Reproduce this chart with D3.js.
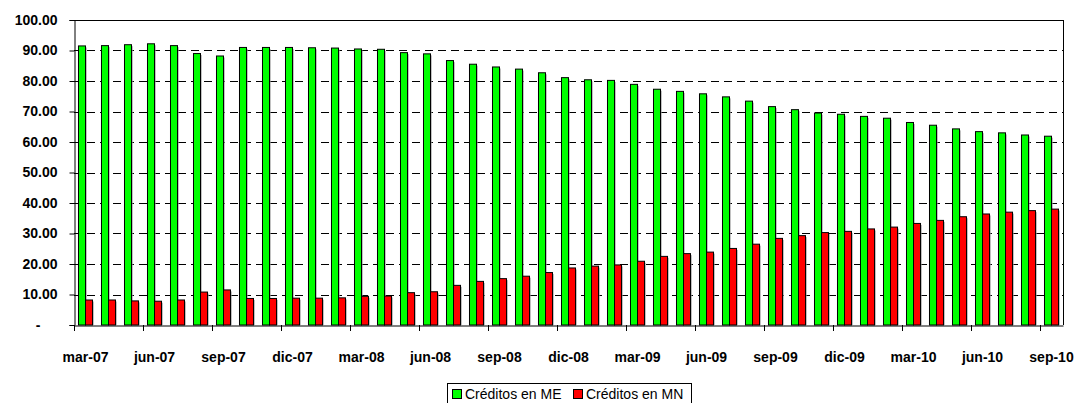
<!DOCTYPE html>
<html><head><meta charset="utf-8">
<script src="https://cdn.jsdelivr.net/npm/d3@7"></script>
<style>
html,body{margin:0;padding:0;background:#fff;}
svg{display:block;font-family:"Liberation Sans",Arial,sans-serif;}
</style></head>
<body>
<svg id="chart" width="1077" height="403"></svg>
<script>
const categories = ["mar-07","abr-07","may-07","jun-07","jul-07","ago-07","sep-07","oct-07","nov-07","dic-07",
 "ene-08","feb-08","mar-08","abr-08","may-08","jun-08","jul-08","ago-08","sep-08","oct-08","nov-08","dic-08",
 "ene-09","feb-09","mar-09","abr-09","may-09","jun-09","jul-09","ago-09","sep-09","oct-09","nov-09","dic-09",
 "ene-10","feb-10","mar-10","abr-10","may-10","jun-10","jul-10","ago-10","sep-10"];
const creditosME = [91.5,91.6,91.9,92.2,91.6,89.0,88.2,91.0,91.0,91.0,90.9,90.8,
 90.5,90.4,89.3,88.9,86.7,85.5,84.6,83.9,82.7,81.1,80.4,80.2,78.9,77.3,76.6,75.8,
 74.8,73.4,71.6,70.6,69.5,69.1,68.4,67.8,66.4,65.5,64.3,63.4,63.0,62.3,61.9];
const creditosMN = [8.2,8.2,7.9,7.8,8.2,10.8,11.5,8.7,8.7,8.8,8.8,8.9,
 9.4,9.5,10.6,10.9,13.0,14.3,15.2,16.0,17.2,18.7,19.3,19.7,20.9,22.5,23.4,23.9,
 25.1,26.5,28.4,29.3,30.3,30.7,31.5,32.1,33.3,34.3,35.5,36.4,37.0,37.5,38.0];
const seriesNames = ["Créditos en ME","Créditos en MN"];
const seriesColors = ["#00ff00","#ff0000"];
const yTicks = [0,10,20,30,40,50,60,70,80,90,100];

const svg = d3.select("#chart");
const L = 74, R = 1063, T = 20, B = 325;

const x = d3.scaleBand().domain(categories).range([L, R]).paddingInner(0).paddingOuter(0);
const x1 = d3.scaleBand().domain(seriesNames).range([0, x.bandwidth()]).paddingInner(0).paddingOuter(0.64);
const y = d3.scaleLinear().domain([0, 100]).range([B, T]);

// gridlines
svg.append("g").selectAll("line").data(yTicks.filter(d => d > 0 && d < 100)).join("line")
  .attr("x1", L).attr("x2", R)
  .attr("y1", d => Math.round(y(d)) + 0.5).attr("y2", d => Math.round(y(d)) + 0.5)
  .attr("stroke", "#000").attr("stroke-width", 1).attr("stroke-dasharray", "8,5");

// plot border top/right
svg.append("line").attr("x1", L).attr("x2", R + 0.5).attr("y1", T + 0.5).attr("y2", T + 0.5).attr("stroke", "#000");
svg.append("line").attr("x1", R + 0.5).attr("x2", R + 0.5).attr("y1", T).attr("y2", B).attr("stroke", "#000");

// bars
const data = categories.map((c, i) => ({c, vals: [creditosME[i], creditosMN[i]]}));
const groups = svg.append("g").selectAll("g").data(data).join("g")
  .attr("transform", d => `translate(${x(d.c)},0)`);
groups.selectAll("rect.shadow").data(d => d.vals.map((v, k) => ({v, k}))).join("rect")
  .attr("class", "shadow")
  .attr("x", d => x1(seriesNames[d.k]) + 1.5)
  .attr("y", d => y(d.v) + 1.5)
  .attr("width", x1.bandwidth())
  .attr("height", d => B - y(d.v) - 1.5)
  .attr("fill", "#999").attr("opacity", 0.6);
groups.selectAll("rect.bar").data(d => d.vals.map((v, k) => ({v, k}))).join("rect")
  .attr("class", "bar")
  .attr("x", d => x1(seriesNames[d.k]))
  .attr("y", d => y(d.v))
  .attr("width", x1.bandwidth())
  .attr("height", d => B - y(d.v))
  .attr("fill", d => seriesColors[d.k])
  .attr("stroke", "#000").attr("stroke-width", 1);

// y axis
const yAxis = d3.axisLeft(y).tickValues(yTicks).tickSize(5).tickPadding(12)
  .tickFormat(d => d === 0 ? "-" : d3.format(".2f")(d));
const ya = svg.append("g").attr("transform", `translate(${L + 0.5},0)`).call(yAxis);
ya.select(".domain").attr("stroke", "#000");
ya.selectAll("text").attr("font-size", 14).attr("font-weight", "bold").attr("fill", "#000")
  .attr("font-family", '"Liberation Sans",Arial,sans-serif');
ya.selectAll(".tick").filter(d => d === 0).select("text").attr("dx", -17);

// x axis
const xAxis = d3.axisBottom(x).tickSize(0).tickPadding(27)
  .tickFormat((d, i) => i % 3 === 0 ? d : "");
const xa = svg.append("g").attr("transform", `translate(0,${B + 0.5})`).call(xAxis);
xa.select(".domain").attr("stroke", "#000");
xa.selectAll("text").attr("font-size", 14).attr("font-weight", "bold").attr("fill", "#000")
  .attr("font-family", '"Liberation Sans",Arial,sans-serif');
// category boundary ticks every 3
svg.append("g").selectAll("line").data(categories.filter((c, i) => i % 3 === 0)).join("line")
  .attr("x1", d => Math.round(x(d)) + 0.5).attr("x2", d => Math.round(x(d)) + 0.5)
  .attr("y1", B).attr("y2", B + 6).attr("stroke", "#000");

// legend
const lg = svg.append("g");
lg.append("rect").attr("x", 447.5).attr("y", 383.5).attr("width", 244).attr("height", 26)
  .attr("fill", "#fff").attr("stroke", "#000");
const items = [{n: seriesNames[0], c: seriesColors[0], x: 452}, {n: seriesNames[1], c: seriesColors[1], x: 573}];
items.forEach(it => {
  lg.append("rect").attr("x", it.x + 0.5).attr("y", 389.5).attr("width", 9).attr("height", 9)
    .attr("fill", it.c).attr("stroke", "#000");
  lg.append("text").attr("x", it.x + 13).attr("y", 399).attr("font-size", 14).attr("fill", "#000").text(it.n);
});
</script>
</body></html>
